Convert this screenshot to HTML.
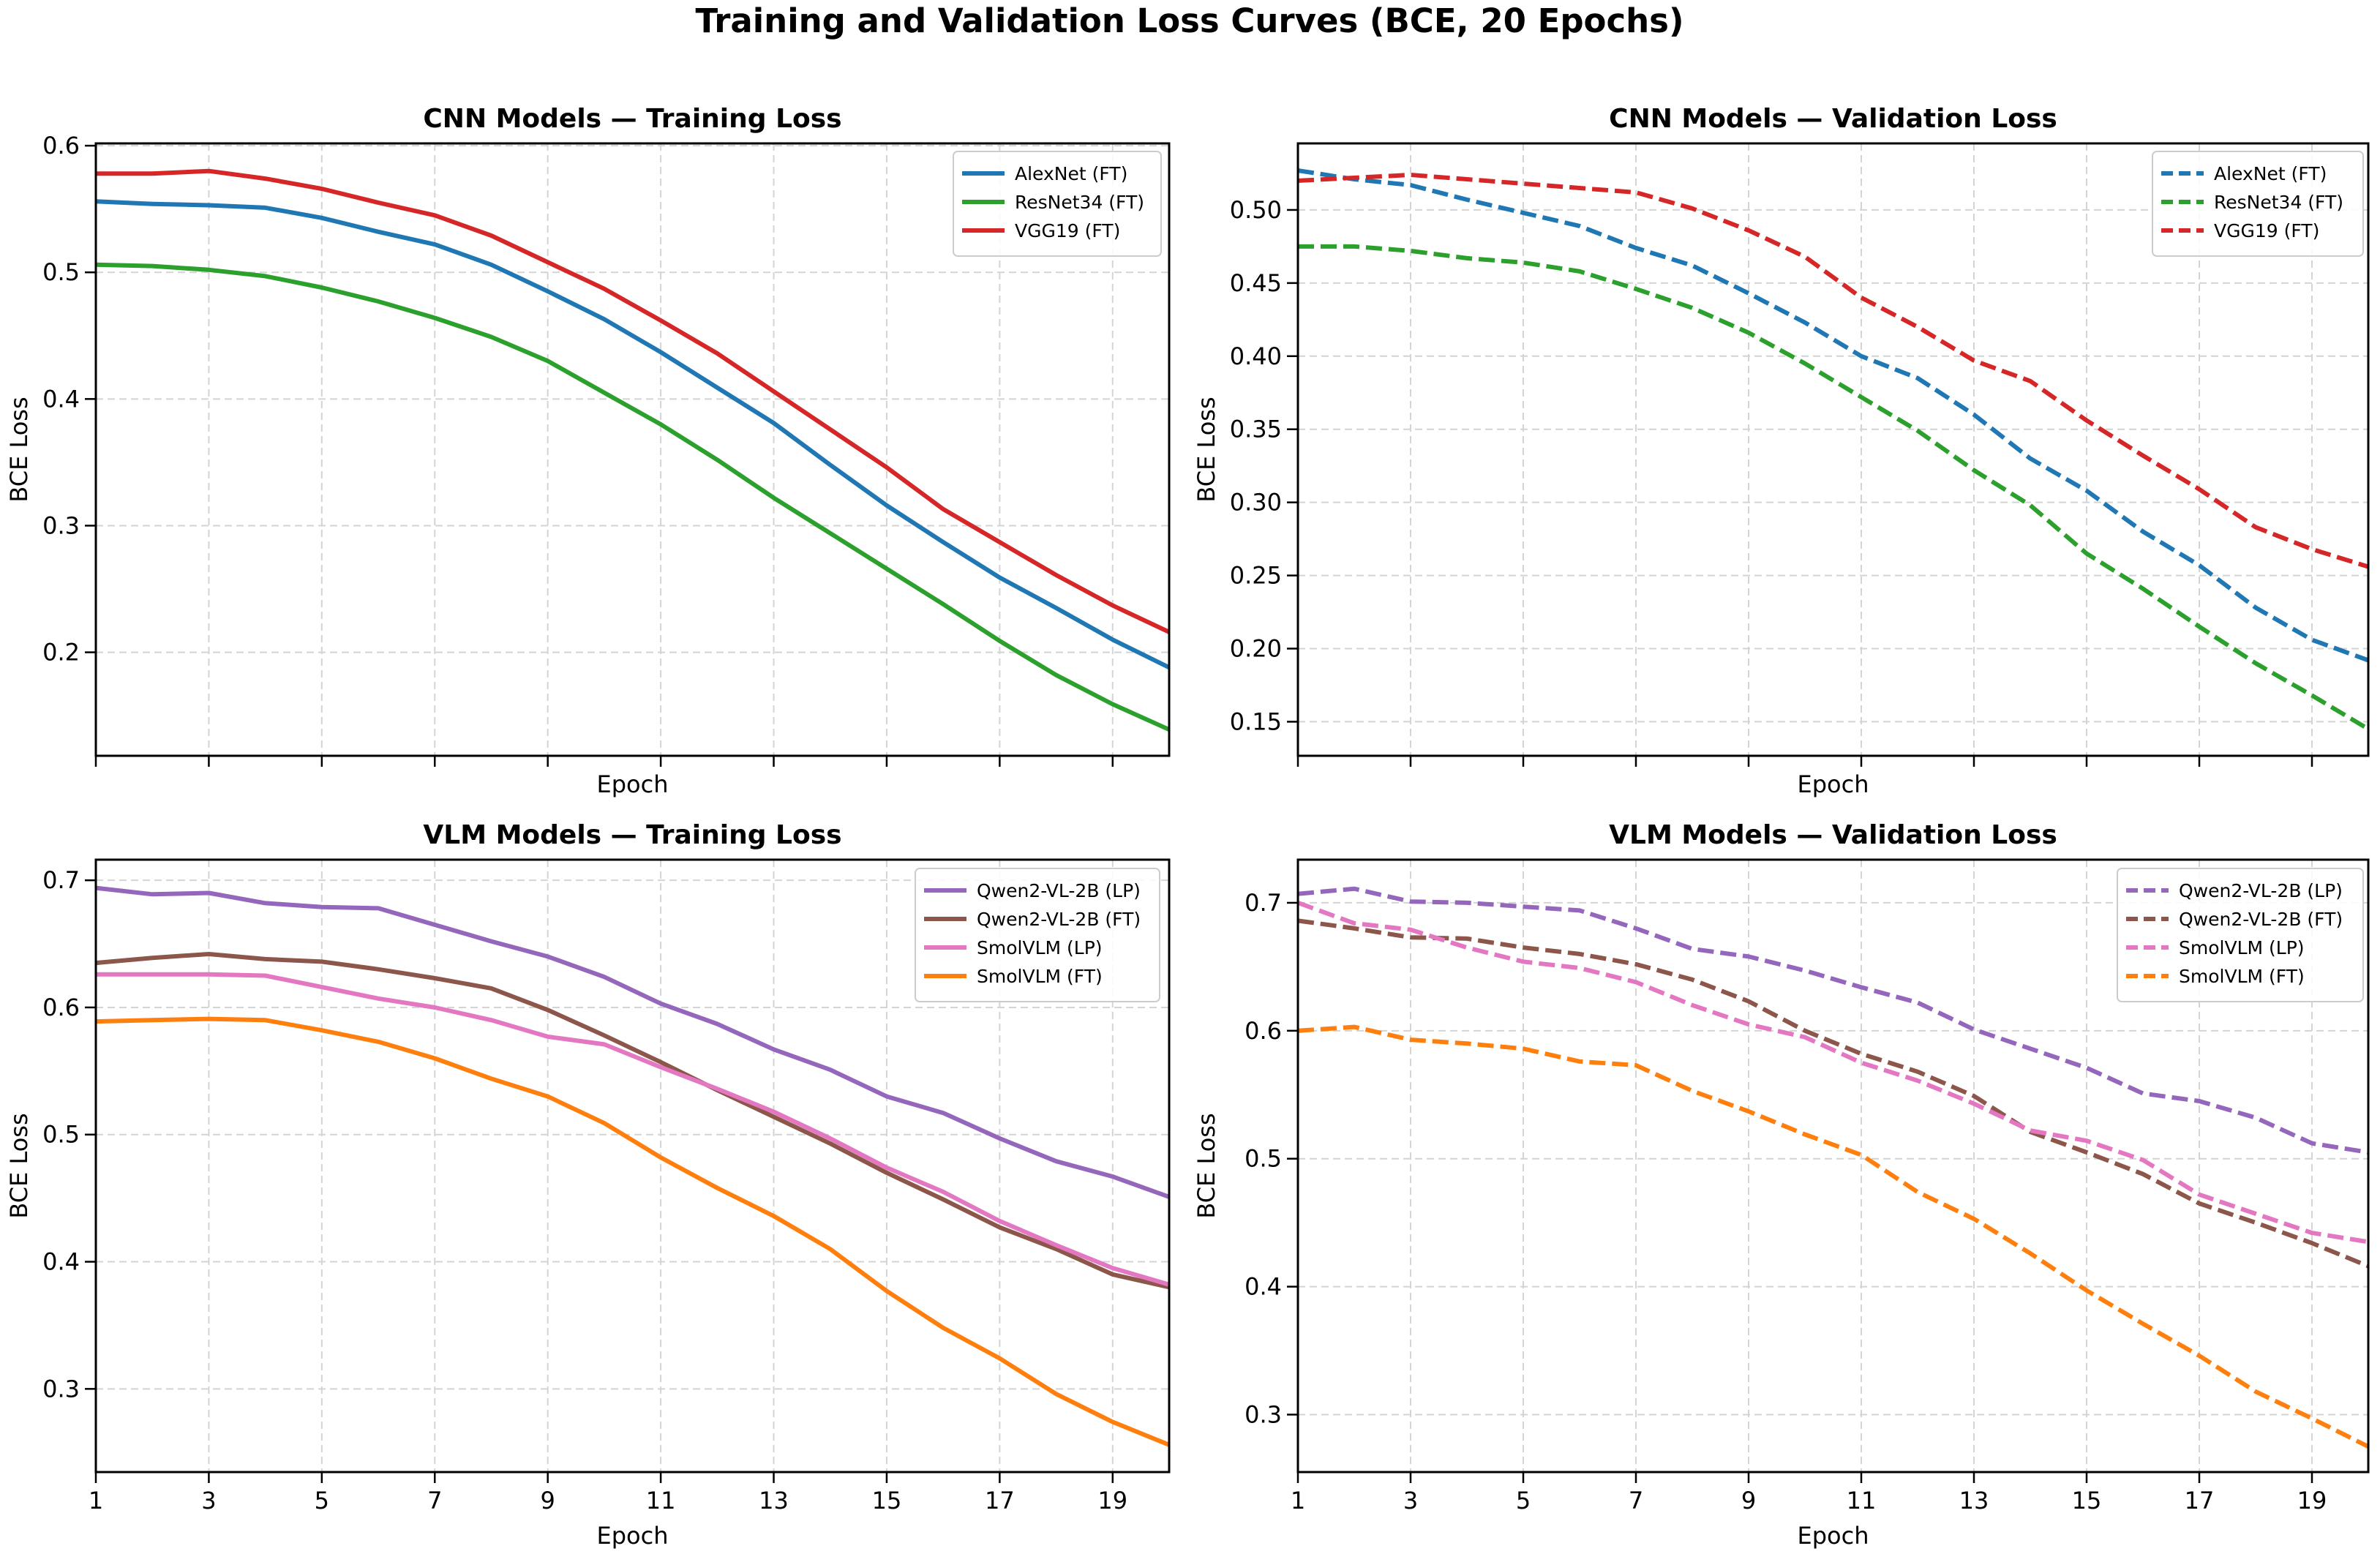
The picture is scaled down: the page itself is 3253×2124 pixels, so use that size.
<!DOCTYPE html>
<html><head><meta charset="utf-8"><style>
body{margin:0;background:#fff;}
svg{display:block;font-family:"DejaVu Sans","Liberation Sans",sans-serif;}
</style></head><body>
<svg id="fig" width="3253" height="2124" viewBox="0 0 3253 2124" xmlns="http://www.w3.org/2000/svg">
<rect width="3253" height="2124" fill="#fff"/>
<text x="1626" y="44" text-anchor="middle" font-size="45" font-weight="bold">Training and Validation Loss Curves (BCE, 20 Epochs)</text>
</svg>
<script>
const epochs = [1,2,3,4,5,6,7,8,9,10,11,12,13,14,15,16,17,18,19,20];
const xTickLabels = [1,3,5,7,9,11,13,15,17,19];
const cnnTrainAlex = [0.556,0.554,0.553,0.551,0.543,0.532,0.522,0.506,0.485,0.463,0.437,0.409,0.381,0.348,0.316,0.287,0.259,0.235,0.210,0.188];
const cnnTrainRes = [0.506,0.505,0.502,0.497,0.488,0.477,0.464,0.449,0.430,0.405,0.380,0.352,0.322,0.294,0.266,0.238,0.209,0.182,0.159,0.139];
const cnnTrainVgg = [0.578,0.578,0.580,0.574,0.566,0.555,0.545,0.529,0.508,0.487,0.462,0.436,0.406,0.376,0.346,0.313,0.287,0.261,0.237,0.216];
const cnnValAlex = [0.527,0.521,0.517,0.507,0.498,0.489,0.474,0.462,0.443,0.423,0.400,0.385,0.360,0.330,0.308,0.280,0.257,0.228,0.206,0.192];
const cnnValRes = [0.475,0.475,0.472,0.467,0.464,0.458,0.446,0.433,0.416,0.395,0.372,0.349,0.322,0.298,0.265,0.241,0.215,0.190,0.168,0.145];
const cnnValVgg = [0.520,0.522,0.524,0.521,0.518,0.515,0.512,0.501,0.486,0.468,0.440,0.420,0.397,0.383,0.356,0.332,0.309,0.283,0.268,0.256];
const vlmTrainQwenLP = [0.694,0.689,0.690,0.682,0.679,0.678,0.665,0.652,0.640,0.624,0.603,0.587,0.567,0.551,0.530,0.517,0.497,0.479,0.467,0.451];
const vlmTrainQwenFT = [0.635,0.639,0.642,0.638,0.636,0.630,0.623,0.615,0.598,0.578,0.557,0.535,0.514,0.493,0.470,0.449,0.427,0.410,0.390,0.380];
const vlmTrainSmolLP = [0.626,0.626,0.626,0.625,0.616,0.607,0.600,0.590,0.577,0.571,0.553,0.536,0.518,0.497,0.474,0.455,0.432,0.413,0.395,0.382];
const vlmTrainSmolFT = [0.589,0.590,0.591,0.590,0.582,0.573,0.560,0.544,0.530,0.509,0.482,0.458,0.436,0.410,0.377,0.348,0.324,0.296,0.274,0.256];
const vlmValQwenLP = [0.707,0.711,0.701,0.700,0.697,0.694,0.680,0.664,0.658,0.647,0.634,0.622,0.601,0.586,0.571,0.551,0.545,0.532,0.512,0.505];
const vlmValQwenFT = [0.686,0.680,0.673,0.672,0.665,0.660,0.652,0.640,0.623,0.600,0.582,0.568,0.549,0.521,0.505,0.488,0.465,0.450,0.434,0.416];
const vlmValSmolLP = [0.700,0.684,0.679,0.665,0.654,0.649,0.638,0.620,0.605,0.595,0.575,0.561,0.543,0.522,0.514,0.499,0.472,0.457,0.442,0.435];
const vlmValSmolFT = [0.600,0.603,0.593,0.590,0.586,0.576,0.573,0.553,0.537,0.519,0.503,0.474,0.453,0.426,0.397,0.371,0.346,0.318,0.297,0.275];
const ticksCnnTrain = [0.2,0.3,0.4,0.5,0.6];
const ticksCnnVal = [0.15,0.20,0.25,0.30,0.35,0.40,0.45,0.50];
const ticksVlm = [0.3,0.4,0.5,0.6,0.7];

const NS='http://www.w3.org/2000/svg';
const fig=document.getElementById('fig');
function mk(tag,attrs,parent){const e=document.createElementNS(NS,tag);for(const k in attrs)e.setAttribute(k,attrs[k]);(parent||fig).appendChild(e);return e;}

const panels=[
 {name:'cnn-training',title:'CNN Models — Training Loss',x0:131,x1:1598,y0:196,y1:1033,ymin:0.1183,ymax:0.6018,ticks:ticksCnnTrain,dec:1,dash:false,showX:false,ylx:27,leg:{x:1303,y:207,w:284},
  series:[['AlexNet (FT)','#1f77b4',cnnTrainAlex],['ResNet34 (FT)','#2ca02c',cnnTrainRes],['VGG19 (FT)','#d62728',cnnTrainVgg]]},
 {name:'cnn-validation',title:'CNN Models — Validation Loss',x0:1774,x1:3237,y0:196,y1:1033,ymin:0.1267,ymax:0.5455,ticks:ticksCnnVal,dec:2,dash:true,showX:false,ylx:1650,leg:{x:2942,y:207,w:288},
  series:[['AlexNet (FT)','#1f77b4',cnnValAlex],['ResNet34 (FT)','#2ca02c',cnnValRes],['VGG19 (FT)','#d62728',cnnValVgg]]},
 {name:'vlm-training',title:'VLM Models — Training Loss',x0:131,x1:1598,y0:1175,y1:2012,ymin:0.2346,ymax:0.7162,ticks:ticksVlm,dec:1,dash:false,showX:true,ylx:27,leg:{x:1251,y:1187,w:334},
  series:[['Qwen2-VL-2B (LP)','#9467bd',vlmTrainQwenLP],['Qwen2-VL-2B (FT)','#8c564b',vlmTrainQwenFT],['SmolVLM (LP)','#e377c2',vlmTrainSmolLP],['SmolVLM (FT)','#ff7f0e',vlmTrainSmolFT]]},
 {name:'vlm-validation',title:'VLM Models — Validation Loss',x0:1774,x1:3237,y0:1175,y1:2012,ymin:0.2551,ymax:0.7337,ticks:ticksVlm,dec:1,dash:true,showX:true,ylx:1650,leg:{x:2894,y:1187,w:336},
  series:[['Qwen2-VL-2B (LP)','#9467bd',vlmValQwenLP],['Qwen2-VL-2B (FT)','#8c564b',vlmValQwenFT],['SmolVLM (LP)','#e377c2',vlmValSmolLP],['SmolVLM (FT)','#ff7f0e',vlmValSmolFT]]}
];

panels.forEach(p=>{
 const g=mk('g',{});
 
 
 const xs=v=>p.x0+(v-1)/(20-1)*(p.x1-p.x0);
 const ys=v=>p.y1-(v-p.ymin)/(p.ymax-p.ymin)*(p.y1-p.y0);
 const t=mk('text',{x:(p.x0+p.x1)/2,y:p.y0-22,'text-anchor':'middle','font-size':36,'font-weight':'bold'},g);
 t.textContent=p.title;
 
 
 // grid
 xTickLabels.forEach(v=>{
  const l=mk('line',{x1:xs(v),x2:xs(v),y1:p.y0,y2:p.y1,stroke:'#d4d4d4','stroke-width':2,'stroke-dasharray':'10,6'},g);
  
  
  const tk=mk('line',{x1:xs(v),x2:xs(v),y1:p.y1,y2:p.y1+15,stroke:'#000','stroke-width':2.5},g);
  
  
  if(p.showX){
   const tl=mk('text',{x:xs(v),y:p.y1+50,'text-anchor':'middle','font-size':32},g);
   tl.textContent=v;
   
   
  }
 });
 p.ticks.forEach(v=>{
  const l=mk('line',{x1:p.x0,x2:p.x1,y1:ys(v),y2:ys(v),stroke:'#d4d4d4','stroke-width':2,'stroke-dasharray':'10,6'},g);
  
  
  const tk=mk('line',{x1:p.x0-15,x2:p.x0,y1:ys(v),y2:ys(v),stroke:'#000','stroke-width':2.5},g);
  
  
  const tl=mk('text',{x:p.x0-22,y:ys(v)+11,'text-anchor':'end','font-size':32},g);
  tl.textContent=v.toFixed(p.dec);
  
  
 });
 // series
 p.series.forEach(s=>{
  const d=epochs.map((e,i)=>(i?'L':'M')+xs(e).toFixed(1)+','+ys(s[2][i]).toFixed(1)).join(' ');
  const a={d:d,fill:'none',stroke:s[1],'stroke-width':6,'stroke-linejoin':'round'};
  if(p.dash)a['stroke-dasharray']='22,9';
  const path=mk('path',a,g);
  
  
 });
 // frame
 const fr=mk('rect',{x:p.x0,y:p.y0,width:p.x1-p.x0,height:p.y1-p.y0,fill:'none',stroke:'#000','stroke-width':3},g);
 
 
 // labels
 const xl=mk('text',{x:(p.x0+p.x1)/2,y:p.y1+(p.showX?98:50),'text-anchor':'middle','font-size':32},g);
 xl.textContent='Epoch';
 
 
 const yl=mk('text',{x:0,y:0,'text-anchor':'middle','font-size':32,transform:'translate('+(p.ylx+10)+','+((p.y0+p.y1)/2)+') rotate(-90)'},g);
 yl.textContent='BCE Loss';
 
 
 // legend
 const L=p.leg,n=p.series.length,h=26+n*39;
 const lg=mk('g',{},g);
 
 
 mk('rect',{x:L.x,y:L.y,width:L.w,height:h,rx:6,fill:'#fff','fill-opacity':0.85,stroke:'#ccc','stroke-width':2},lg);
 p.series.forEach((s,i)=>{
  const cy=L.y+30+i*39;
  const e=mk('g',{},lg);
  
  
  const la={x1:L.x+12,x2:L.x+70,y1:cy,y2:cy,stroke:s[1],'stroke-width':6};
  if(p.dash)la['stroke-dasharray']='16,8';
  mk('line',la,e);
  const tx=mk('text',{x:L.x+84,y:cy+9,'font-size':25},e);
  tx.textContent=s[0];
 });
});
</script>
</body></html>
